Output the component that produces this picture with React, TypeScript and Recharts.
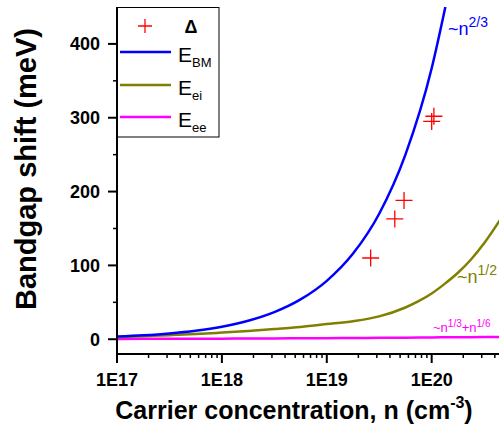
import React from 'react';
import {
  ComposedChart,
  Line,
  Scatter,
  XAxis,
  YAxis,
  Legend,
} from 'recharts';

const FONT = '"Liberation Sans", Arial, Helvetica, sans-serif';

// carrier concentration grid (cm^-3)
const N_BM = [1e17, 1.78e17, 3.16e17, 5.62e17, 1e18, 1.78e18, 3.16e18, 5.62e18, 1e19, 1.78e19, 3.16e19, 5.62e19, 1e20, 1.35e20];
const E_BM = [3.7, 5.4, 7.9, 11.6, 17.0, 25.0, 36.7, 53.9, 79.1, 116, 170, 250, 367, 450];

const N_EI = [1e17, 1.78e17, 3.16e17, 5.62e17, 1e18, 1.78e18, 3.16e18, 5.62e18, 1e19, 1.78e19, 3.16e19, 5.62e19, 7.5e19, 1e20, 1.33e20, 1.78e20, 2.37e20, 3.16e20, 5e20];
const E_EI = [2.8, 4.2, 5.5, 7.0, 9.0, 11.2, 13.8, 16.7, 20.5, 24.5, 31, 43, 51.5, 62, 75, 90, 108, 130, 172];

const N_EE = [1e17, 1.78e17, 3.16e17, 5.62e17, 1e18, 1.78e18, 3.16e18, 5.62e18, 1e19, 1.78e19, 3.16e19, 5.62e19, 1e20, 1.78e20, 3.16e20, 5e20];
const E_EE = [0.4, 0.5, 0.6, 0.7, 0.8, 1.0, 1.1, 1.3, 1.5, 1.7, 1.9, 2.1, 2.4, 2.7, 2.9, 3.1];

// measured shift (meV)
const N_EXP = [2.62e19, 4.45e19, 5.45e19, 1.0e20, 1.05e20];
const DELTA_EXP = [110, 163, 188, 295, 302];

const X_MAJOR = [1e17, 1e18, 1e19, 1e20];
const X_MINOR = [
  2e17, 3e17, 4e17, 5e17, 6e17, 7e17, 8e17, 9e17,
  2e18, 3e18, 4e18, 5e18, 6e18, 7e18, 8e18, 9e18,
  2e19, 3e19, 4e19, 5e19, 6e19, 7e19, 8e19, 9e19,
  2e20, 3e20, 4e20,
];
const Y_MAJOR = [0, 100, 200, 300, 400];
const Y_MINOR = [50, 150, 250, 350];

const X_DOMAIN = [1e17, 5e20];
const Y_DOMAIN = [-20, 450];

const BLUE = '#0000ff';
const OLIVE = '#808000';
const MAGENTA = '#ff00ff';
const RED = '#ff0000';

const bmData = N_BM.map((n, i) => ({ n, v: E_BM[i] }));
const eiData = N_EI.map((n, i) => ({ n, v: E_EI[i] }));
const eeData = N_EE.map((n, i) => ({ n, v: E_EE[i] }));
const expData = N_EXP.map((n, i) => ({ n, v: DELTA_EXP[i] }));

const X_TICKS = [...X_MAJOR, ...X_MINOR].sort((a, b) => a - b);
const Y_TICKS = [...Y_MAJOR, ...Y_MINOR].sort((a, b) => a - b);

function BottomTick({ x, y, payload }: any) {
  const major = X_MAJOR.includes(payload.value);
  return (
    <g>
      <line x1={x} x2={x} y1={y} y2={y + (major ? 9 : 4)} stroke="#000" strokeWidth={major ? 2 : 1.5} />
      {major && (
        <text x={x} y={y + 32} textAnchor="middle" fontFamily={FONT} fontSize={18} fontWeight="bold" fill="#000">
          {`1E${Math.round(Math.log10(payload.value))}`}
        </text>
      )}
    </g>
  );
}

function TopTick({ x, y, payload }: any) {
  const major = X_MAJOR.includes(payload.value);
  return <line x1={x} x2={x} y1={y} y2={y + (major ? 8 : 4)} stroke="#000" strokeWidth={major ? 2 : 1.5} />;
}

function LeftTick({ x, y, payload }: any) {
  const major = Y_MAJOR.includes(payload.value);
  return (
    <g>
      <line x1={x - (major ? 9 : 4)} x2={x} y1={y} y2={y} stroke="#000" strokeWidth={major ? 2 : 1.5} />
      {major && (
        <text x={x - 17} y={y} dy="0.36em" textAnchor="end" fontFamily={FONT} fontSize={18} fontWeight="bold" fill="#000">
          {payload.value}
        </text>
      )}
    </g>
  );
}

function RightTick({ x, y, payload }: any) {
  const major = Y_MAJOR.includes(payload.value);
  return <line x1={x - (major ? 8 : 4)} x2={x} y1={y} y2={y} stroke="#000" strokeWidth={major ? 2 : 1.5} />;
}

function Cross({ cx, cy, size = 8.5 }: any) {
  return (
    <path
      d={`M${cx - size},${cy}H${cx + size}M${cx},${cy - size}V${cy + size}`}
      stroke={RED}
      strokeWidth={1.3}
      fill="none"
    />
  );
}

const LEGEND_LINES = [
  { color: BLUE, sub: 'BM', y: 45, base: 55 },
  { color: OLIVE, sub: 'ei', y: 78, base: 88 },
  { color: MAGENTA, sub: 'ee', y: 110, base: 120 },
];

function LegendBox() {
  return (
    <svg width={103} height={131} style={{ display: 'block' }}>
      <rect x={0.5} y={0.5} width={101.5} height={129.5} fill="#fff" stroke="#000" strokeWidth={1} />
      <Cross cx={28} cy={19} size={7} />
      <text x={74} y={26} textAnchor="middle" fontFamily={FONT} fontSize={18} fontWeight="bold" fill="#000">
        Δ
      </text>
      {LEGEND_LINES.map((l) => (
        <g key={l.sub}>
          <line x1={3} x2={54} y1={l.y} y2={l.y} stroke={l.color} strokeWidth={2.5} />
          <text x={61} y={l.base} fontFamily={FONT} fontSize={21} fill="#000">
            E
            <tspan fontSize={13} dy={5}>
              {l.sub}
            </tspan>
          </text>
        </g>
      ))}
    </svg>
  );
}

export default function App() {
  return (
    <div style={{ position: 'absolute', left: 0, top: 0, width: 499, height: 426, overflow: 'hidden', background: '#fff' }}>
      <ComposedChart width={510} height={426} margin={{ top: 7, right: 5, bottom: 0, left: 0 }}>
        <XAxis
          xAxisId="x"
          dataKey="n"
          type="number"
          scale="log"
          domain={X_DOMAIN}
          allowDataOverflow
          ticks={X_TICKS}
          interval={0}
          tickSize={0}
          tickMargin={0}
          tickLine={false}
          tick={<BottomTick />}
          axisLine={{ stroke: '#000', strokeWidth: 2 }}
          height={72}
        />
        <XAxis
          xAxisId="top"
          orientation="top"
          dataKey="n"
          type="number"
          scale="log"
          domain={X_DOMAIN}
          allowDataOverflow
          ticks={X_TICKS}
          interval={0}
          tickSize={0}
          tickMargin={0}
          tickLine={false}
          tick={<TopTick />}
          axisLine={{ stroke: '#000', strokeWidth: 2 }}
          height={0}
        />
        <YAxis
          yAxisId="y"
          type="number"
          domain={Y_DOMAIN}
          allowDataOverflow
          ticks={Y_TICKS}
          interval={0}
          tickSize={0}
          tickMargin={0}
          tickLine={false}
          tick={<LeftTick />}
          axisLine={{ stroke: '#000', strokeWidth: 2 }}
          width={117}
        />
        <YAxis
          yAxisId="r"
          orientation="right"
          type="number"
          domain={Y_DOMAIN}
          allowDataOverflow
          ticks={Y_MAJOR}
          interval={0}
          tickSize={0}
          tickMargin={0}
          tickLine={false}
          tick={<RightTick />}
          axisLine={{ stroke: '#000', strokeWidth: 2 }}
          width={0}
        />
        <Legend
          layout="vertical"
          align="center"
          verticalAlign="middle"
          wrapperStyle={{ left: 117, top: 7, width: 103, height: 131 }}
          content={() => <LegendBox />}
        />
        <Line xAxisId="x" yAxisId="y" data={eeData} dataKey="v" name="E_ee" type="monotone" stroke={MAGENTA} strokeWidth={2.5} dot={false} isAnimationActive={false} />
        <Line xAxisId="x" yAxisId="y" data={eiData} dataKey="v" name="E_ei" type="monotone" stroke={OLIVE} strokeWidth={2.5} dot={false} isAnimationActive={false} />
        <Line xAxisId="x" yAxisId="y" data={bmData} dataKey="v" name="E_BM" type="monotone" stroke={BLUE} strokeWidth={2.5} dot={false} isAnimationActive={false} />
        <Scatter xAxisId="x" yAxisId="y" data={expData} dataKey="v" name="Δ" shape={(p: any) => <Cross cx={p.cx} cy={p.cy} />} isAnimationActive={false} />
      </ComposedChart>

      <svg width={499} height={426} style={{ position: 'absolute', left: 0, top: 0, pointerEvents: 'none' }}>
        <text x={36} y={169} transform="rotate(-90 36 169)" textAnchor="middle" fontFamily={FONT} fontSize={29} fontWeight="bold" fill="#000">
          Bandgap shift (meV)
        </text>
        <text x={294} y={419} textAnchor="middle" fontFamily={FONT} fontSize={25} fontWeight="bold" fill="#000">
          Carrier concentration, n (cm
          <tspan fontSize={16} dy={-11}>-3</tspan>
          <tspan dy={11}>)</tspan>
        </text>
        <text x={448} y={35} fontFamily={FONT} fontSize={18} fill={BLUE}>
          ~n
          <tspan fontSize={14} dy={-8}>2/3</tspan>
        </text>
        <text x={457} y={283} fontFamily={FONT} fontSize={18} fill={OLIVE}>
          ~n
          <tspan fontSize={14} dy={-8}>1/2</tspan>
        </text>
        <text x={433} y={332} fontFamily={FONT} fontSize={13} fill={MAGENTA}>
          ~n
          <tspan fontSize={10} dy={-5}>1/3</tspan>
          <tspan dy={5}>+n</tspan>
          <tspan fontSize={10} dy={-5}>1/6</tspan>
        </text>
      </svg>
    </div>
  );
}
